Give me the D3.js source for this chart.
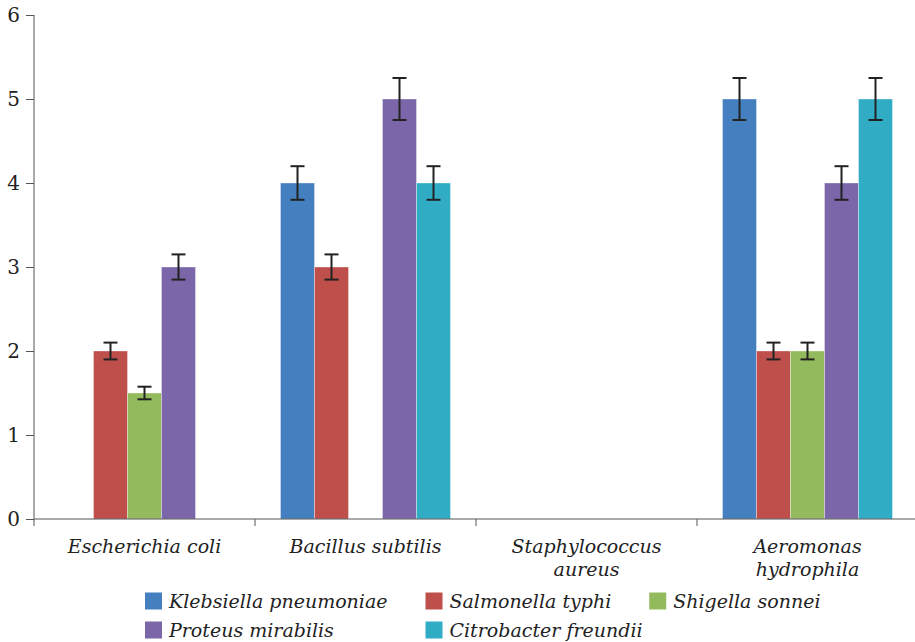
<!DOCTYPE html>
<html>
<head>
<meta charset="utf-8">
<script src="https://cdn.jsdelivr.net/npm/d3@7"></script>
<style>
  body { margin: 0; background: #fff; }
  text { font-family: "DejaVu Serif", serif; fill: #222; }
</style>
</head>
<body>
<div id="chart"></div>
<script>
// categories on the x axis, and the wrapped labels shown under them
var categories = ["Escherichia coli", "Bacillus subtilis", "Staphylococcus aureus", "Aeromonas hydrophila"];
var categoryLabels = [["Escherichia coli"], ["Bacillus subtilis"], ["Staphylococcus", "aureus"], ["Aeromonas", "hydrophila"]];

// one series per bacterium tested, values per category (0 = no bar)
var series = ["Klebsiella pneumoniae", "Salmonella typhi", "Shigella sonnei", "Proteus mirabilis", "Citrobacter freundii"];
var klebsiella = [0, 4, 0, 5];
var salmonella = [2, 3, 0, 2];
var shigella   = [1.5, 0, 0, 2];
var proteus    = [3, 5, 0, 4];
var citrobacter = [0, 4, 0, 5];

// error bar half heights
var klebsiellaErr = [0, 0.2, 0, 0.25];
var salmonellaErr = [0.1, 0.15, 0, 0.1];
var shigellaErr   = [0.075, 0, 0, 0.1];
var proteusErr    = [0.15, 0.25, 0, 0.2];
var citrobacterErr = [0, 0.2, 0, 0.25];

var yTicks = [0, 1, 2, 3, 4, 5, 6];
var colors = ["#4480c0", "#be4f4b", "#93bb5d", "#7a66a8", "#30adc5"];

function draw() {
  var width = 915, height = 642;
  var margin = { top: 15, right: -3, bottom: 123, left: 34 };
  var innerWidth = width - margin.left - margin.right;
  var innerHeight = height - margin.top - margin.bottom;

  var values = [klebsiella, salmonella, shigella, proteus, citrobacter];
  var errors = [klebsiellaErr, salmonellaErr, shigellaErr, proteusErr, citrobacterErr];

  var rows = [];
  categories.forEach(function(c, ci) {
    series.forEach(function(s, si) {
      rows.push({ cat: c, series: s, value: values[si][ci], err: errors[si][ci] });
    });
  });

  var svg = d3.select("#chart").append("svg")
    .attr("width", width)
    .attr("height", height);

  var g = svg.append("g").attr("transform", "translate(" + margin.left + "," + margin.top + ")");

  var x0 = d3.scaleBand().domain(categories).range([0, innerWidth]).paddingInner(0).paddingOuter(0);
  var x1 = d3.scaleBand().domain(series).range([25.5, x0.bandwidth() - 25.5]);
  var y = d3.scaleLinear().domain([0, 6]).range([innerHeight, 0]);
  var color = d3.scaleOrdinal().domain(series).range(colors);

  // bars
  var bars = rows.filter(function(d) { return d.value > 0; });
  g.selectAll("rect.bar").data(bars).enter().append("rect")
    .attr("class", "bar")
    .attr("x", function(d) { return x0(d.cat) + x1(d.series); })
    .attr("y", function(d) { return y(d.value); })
    .attr("width", x1.bandwidth())
    .attr("height", function(d) { return y(0) - y(d.value); })
    .attr("fill", function(d) { return color(d.series); })
    .attr("stroke", "#fff")
    .attr("stroke-opacity", 0.35)
    .attr("stroke-width", 1);

  // error bars
  var eb = g.selectAll("g.err").data(bars).enter().append("g")
    .attr("class", "err")
    .attr("transform", function(d) { return "translate(" + (x0(d.cat) + x1(d.series) + x1.bandwidth() / 2) + ",0)"; })
    .attr("stroke", "#222")
    .attr("stroke-width", 2);
  eb.append("line")
    .attr("y1", function(d) { return y(d.value + d.err); })
    .attr("y2", function(d) { return y(d.value - d.err); });
  eb.append("line").attr("x1", -7).attr("x2", 7)
    .attr("y1", function(d) { return y(d.value + d.err); })
    .attr("y2", function(d) { return y(d.value + d.err); });
  eb.append("line").attr("x1", -7).attr("x2", 7)
    .attr("y1", function(d) { return y(d.value - d.err); })
    .attr("y2", function(d) { return y(d.value - d.err); });

  // y axis
  var yAxis = d3.axisLeft(y).tickValues(yTicks).tickSize(8).tickPadding(6).tickFormat(d3.format("d"));
  var gy = g.append("g").call(yAxis);
  gy.select(".domain").remove();
  gy.selectAll("line").attr("stroke", "#555");
  gy.selectAll("text").style("font-size", "20px").style("font-family", "DejaVu Serif").attr("fill", "#222");
  g.append("line").attr("x1", 0).attr("x2", 0).attr("y1", 0).attr("y2", innerHeight + 7)
    .attr("stroke", "#555");

  // x axis baseline and boundary ticks
  g.append("line").attr("x1", 0).attr("x2", innerWidth).attr("y1", innerHeight).attr("y2", innerHeight)
    .attr("stroke", "#555");
  g.selectAll("line.xtick").data(categories.slice(1)).enter().append("line")
    .attr("class", "xtick")
    .attr("x1", function(d) { return x0(d); })
    .attr("x2", function(d) { return x0(d); })
    .attr("y1", innerHeight).attr("y2", innerHeight + 7)
    .attr("stroke", "#555");

  // x labels
  var labels = g.selectAll("text.xlabel").data(categories).enter().append("text")
    .attr("class", "xlabel")
    .attr("text-anchor", "middle")
    .attr("transform", function(d) { return "translate(" + (x0(d) + x0.bandwidth() / 2) + "," + (innerHeight + 34) + ")"; })
    .style("font-size", "19px")
    .style("font-style", "italic");
  labels.selectAll("tspan").data(function(d, i) { return categoryLabels[i]; }).enter().append("tspan")
    .attr("x", 0)
    .attr("dy", function(d, i) { return i === 0 ? 0 : 23; })
    .text(function(d) { return d; });

  // legend: 3 columns, column positions set by the first row
  var legend = svg.append("g").attr("transform", "translate(145,0)");
  var items = legend.selectAll("g.item").data(series).enter().append("g").attr("class", "item");
  items.append("rect").attr("width", 17).attr("height", 17).attr("y", -8.5)
    .attr("fill", function(d) { return color(d); });
  items.append("text").attr("x", 24).attr("dy", "0.35em")
    .style("font-size", "19px").style("font-style", "italic")
    .text(function(d) { return d; });

  var nCols = 3, gap = 38;
  var widths = [];
  items.each(function(d, i) {
    if (i < nCols) widths[i] = d3.select(this).select("text").node().getComputedTextLength() + 24;
  });
  var colX = [0];
  for (var c = 1; c < nCols; c++) colX[c] = colX[c - 1] + widths[c - 1] + gap;
  items.attr("transform", function(d, i) {
    return "translate(" + colX[i % nCols] + "," + (601 + Math.floor(i / nCols) * 29) + ")";
  });
}

window.onload = draw;
</script>
</body>
</html>
